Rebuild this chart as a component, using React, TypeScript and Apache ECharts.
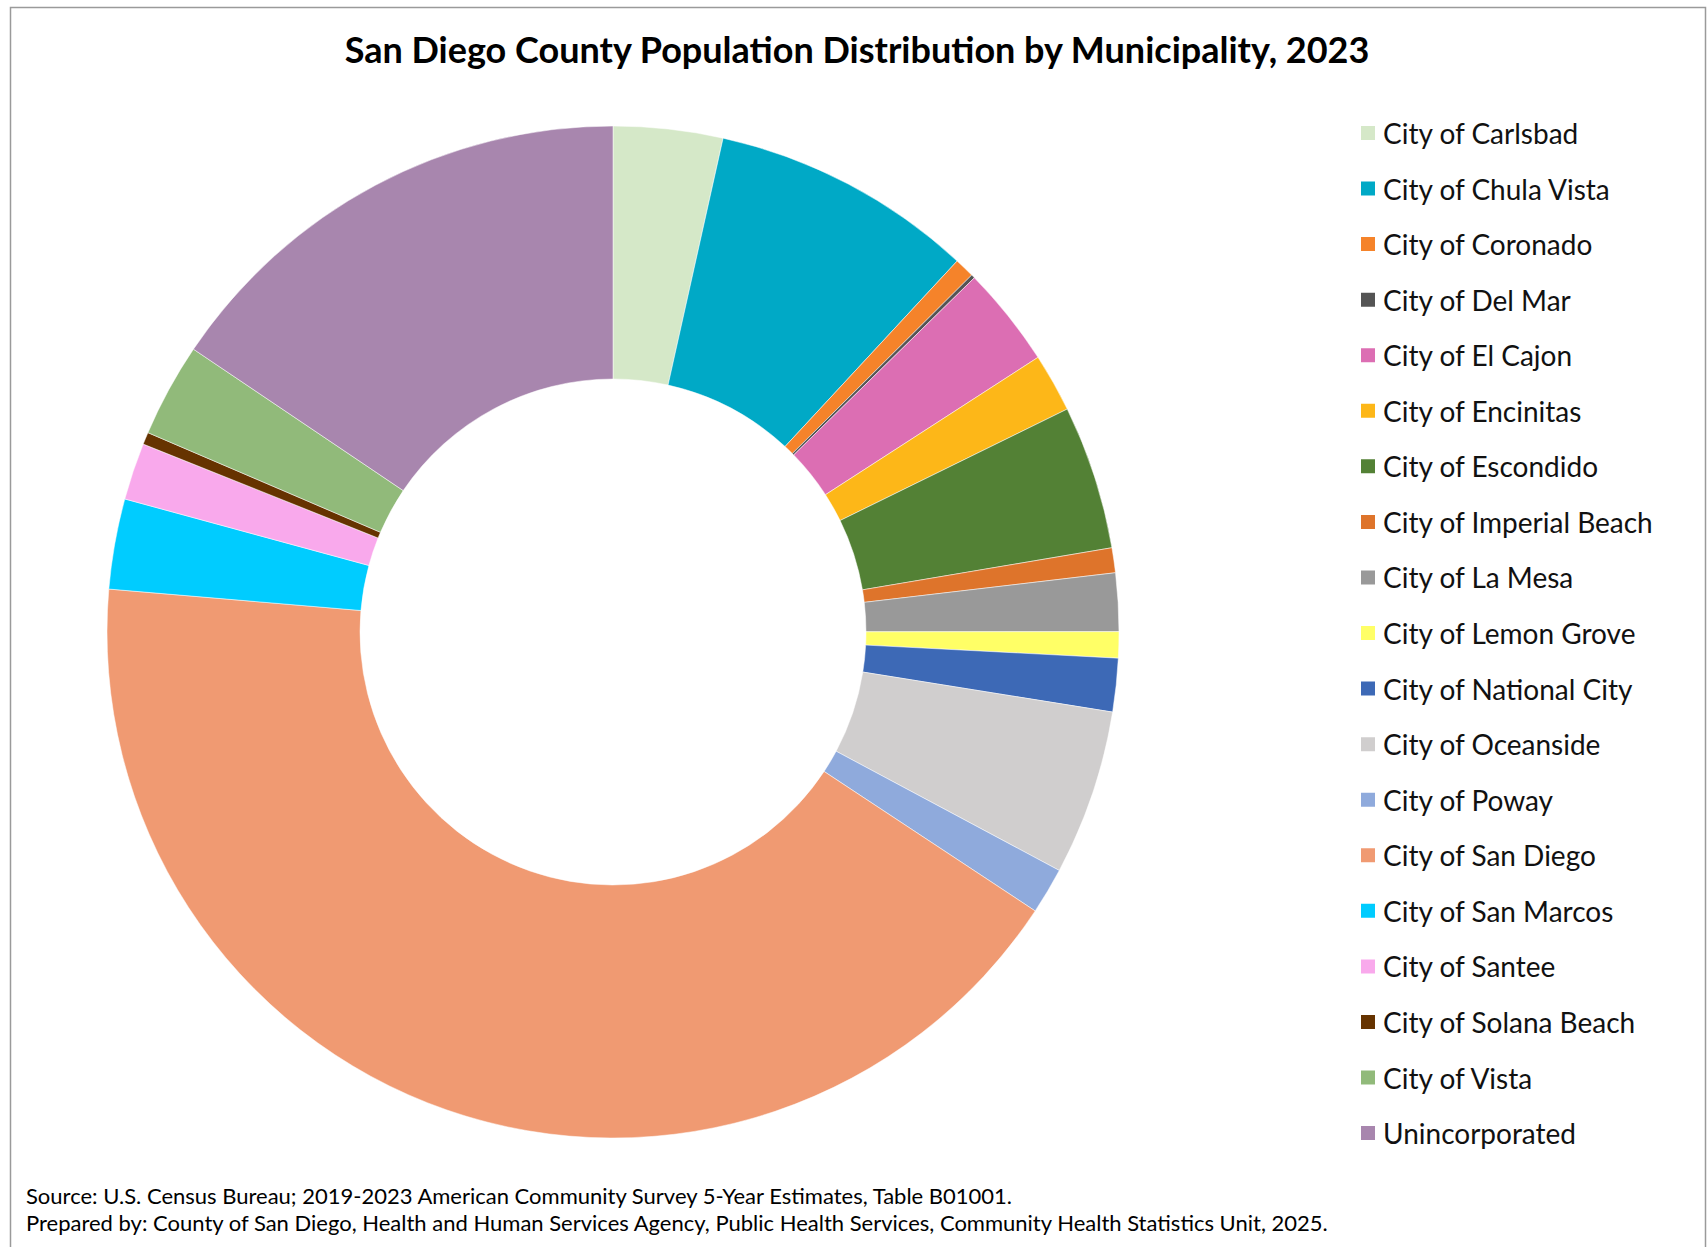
import React, { useEffect, useRef } from "react";
import * as echarts from "echarts";

const categories = [
  "City of Carlsbad",
  "City of Chula Vista",
  "City of Coronado",
  "City of Del Mar",
  "City of El Cajon",
  "City of Encinitas",
  "City of Escondido",
  "City of Imperial Beach",
  "City of La Mesa",
  "City of Lemon Grove",
  "City of National City",
  "City of Oceanside",
  "City of Poway",
  "City of San Diego",
  "City of San Marcos",
  "City of Santee",
  "City of Solana Beach",
  "City of Vista",
  "Unincorporated",
];

const population = [
  114877, 276785, 20949, 3929, 105638, 61515, 151300, 26137, 61121, 27463,
  56173, 173722, 48759, 1383987, 94833, 59923, 12818, 98549, 512000,
];

const colors = [
  "#D5E8C8", "#00A9C6", "#F5832A", "#545454", "#DC6EB3", "#FDB718",
  "#538135", "#DE742B", "#999999", "#FFFF66", "#3D69B6", "#D0CECE",
  "#8FAADC", "#F09A72", "#00CCFF", "#F9A9EC", "#663300", "#91BA7A",
  "#A886AE",
];

const titleText = "San Diego County Population Distribution by Municipality, 2023";
const footerLines = [
  "Source: U.S. Census Bureau; 2019-2023 American Community Survey 5-Year Estimates, Table B01001.",
  "Prepared by: County of San Diego, Health and Human Services Agency, Public Health Services, Community Health Statistics Unit, 2025.",
];

const FONT = "Lato, 'Open Sans', sans-serif";

export default function App() {
  const ref = useRef<HTMLDivElement>(null);
  useEffect(() => {
    if (!ref.current) return;
    const chart = echarts.init(ref.current, undefined, { renderer: "svg" });
    chart.setOption({
      animation: false,
      backgroundColor: "#ffffff",
      color: colors,
      legend: {
        orient: "vertical",
        left: 1359,
        top: 119,
        padding: 0,
        itemWidth: 16,
        itemHeight: 16,
        itemGap: 27.56,
        icon: "rect",
        selectedMode: false,
        textStyle: {
          fontFamily: FONT,
          fontSize: 28,
          color: "#111111",
          padding: [0, 0, 0, 2],
        },
        data: categories,
      },
      graphic: [
        {
          type: "rect",
          shape: { x: 10.5, y: 7.5, width: 1695, height: 1300 },
          style: { fill: "none", stroke: "#9a9a9a", lineWidth: 1.5 },
          silent: true,
        },
        {
          type: "text",
          x: 857,
          y: 49,
          style: {
            text: titleText,
            fontFamily: FONT,
            fontWeight: "bold",
            fontSize: 36,
            fill: "#000000",
            textAlign: "center",
            textVerticalAlign: "middle",
          },
        },
        ...footerLines.map((t, i) => ({
          type: "text",
          x: 26,
          y: 1195 + i * 27,
          style: {
            text: t,
            fontFamily: FONT,
            fontSize: 22,
            fill: "#000000",
            textAlign: "left",
            textVerticalAlign: "middle",
          },
        })),
      ],
      series: [
        {
          type: "pie",
          center: [613, 632],
          radius: [253, 506],
          startAngle: 90,
          clockwise: true,
          avoidLabelOverlap: false,
          label: { show: false },
          labelLine: { show: false },
          emphasis: { disabled: true },
          itemStyle: { borderColor: "#ffffff", borderWidth: 0.5 },
          data: categories.map((name, i) => ({ name, value: population[i] })),
        },
      ],
    });
    return () => chart.dispose();
  }, []);
  return (
    <div
      ref={ref}
      style={{ position: "absolute", left: 0, top: 0, width: 1708, height: 1247 }}
    />
  );
}
